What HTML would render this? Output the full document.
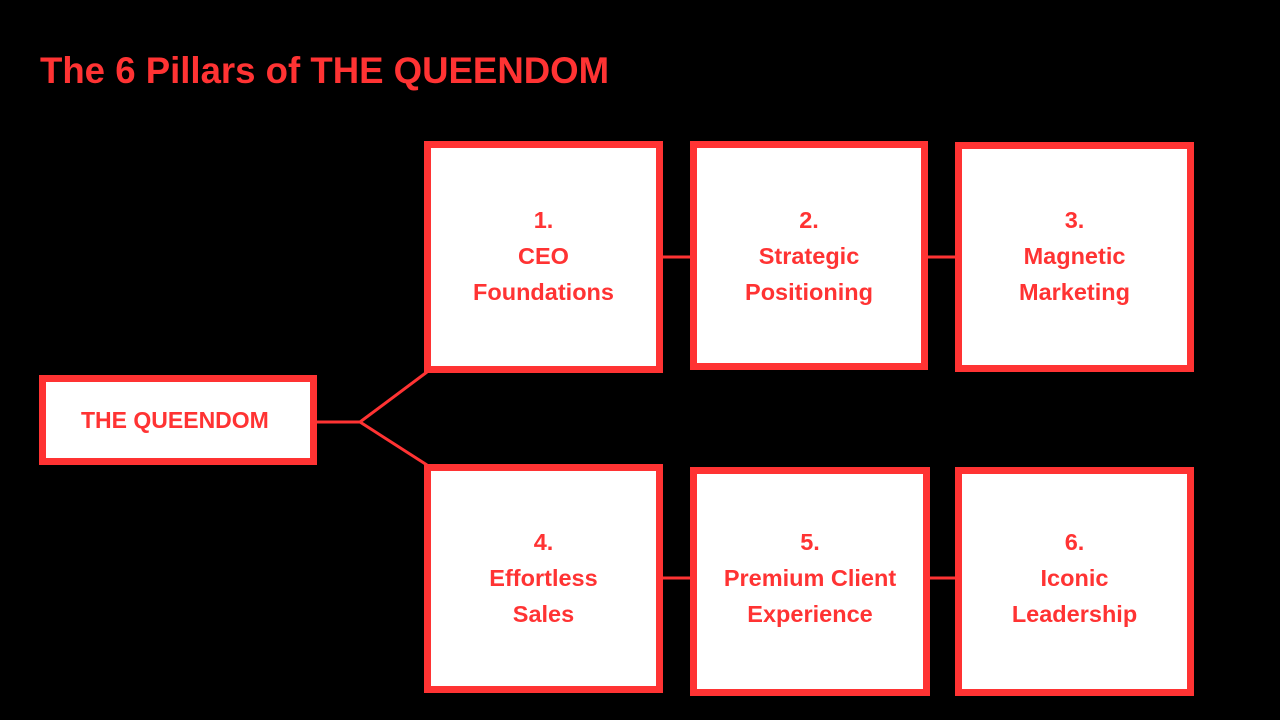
<!DOCTYPE html>
<html><head><style>
body{margin:0;width:1280px;height:720px;background:#000;position:relative;overflow:hidden;font-family:"Liberation Sans",Arial,sans-serif;font-weight:bold;color:#ff3333}
.t{position:absolute;left:40px;top:50px;font-size:36.6px;letter-spacing:0}
.b{position:absolute;box-sizing:border-box;border:7px solid #ff3333;background:#fff;display:flex;align-items:center;justify-content:center;text-align:center;font-size:23.5px;line-height:36px}
svg{position:absolute;left:0;top:0}
</style></head><body>
<div class="t">The 6 Pillars of THE QUEENDOM</div>
<svg width="1280" height="720"><g stroke="#ff3333" stroke-width="3" fill="none">
<polyline points="317,422 360,422 427,372"/><polyline points="360,422 427,465"/>
<line x1="663" y1="257" x2="690" y2="257"/><line x1="928" y1="257" x2="955" y2="257"/>
<line x1="663" y1="578" x2="690" y2="578"/><line x1="930" y1="578" x2="955" y2="578"/>
</g></svg>
<div class="b" style="left:39px;top:375px;width:278px;height:90px;justify-content:flex-start;padding-left:35px;font-size:23px">THE QUEENDOM</div>
<div class="b" style="left:424px;top:141px;width:239px;height:232px;padding-bottom:2px">1.<br>CEO<br>Foundations</div>
<div class="b" style="left:690px;top:141px;width:238px;height:229px">2.<br>Strategic<br>Positioning</div>
<div class="b" style="left:955px;top:142px;width:239px;height:230px;padding-bottom:2px">3.<br>Magnetic<br>Marketing</div>
<div class="b" style="left:424px;top:464px;width:239px;height:229px;padding-bottom:2px">4.<br>Effortless<br>Sales</div>
<div class="b" style="left:690px;top:467px;width:240px;height:229px;padding-bottom:8px">5.<br>Premium Client<br>Experience</div>
<div class="b" style="left:955px;top:467px;width:239px;height:229px;padding-bottom:8px">6.<br>Iconic<br>Leadership</div>
</body></html>
